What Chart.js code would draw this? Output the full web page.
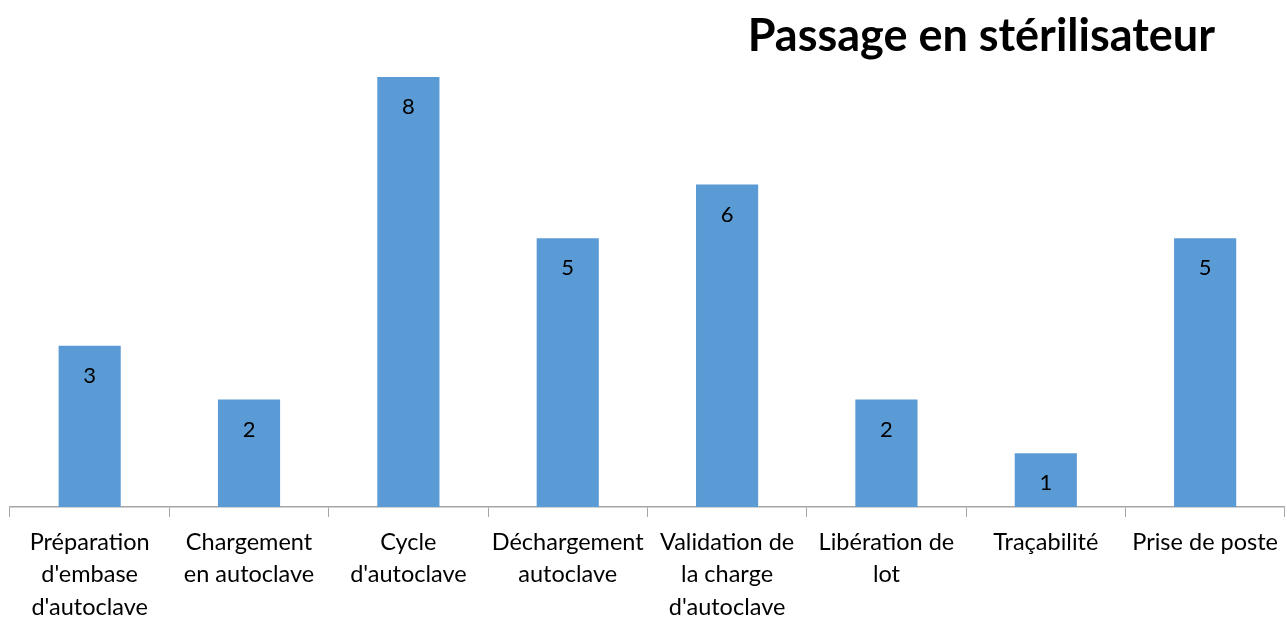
<!DOCTYPE html>
<html>
<head>
<meta charset="utf-8">
<script src="https://cdn.jsdelivr.net/npm/chart.js@4"></script>
<style>
    html, body { margin: 0; padding: 0; background: #fff; }
    #wrap { position: relative; width: 1287px; height: 618px; }
    #titre {
        position: absolute; top: 8px; right: 72px;
        font-family: Lato, "Open Sans", sans-serif; font-weight: bold;
        font-size: 45px; line-height: 52px; color: #000; margin: 0;
    }
</style>
</head>
<body>
<div id="wrap">
    <canvas id="sterilChart" width="1287" height="618"></canvas>
    <h1 id="titre">Passage en stérilisateur</h1>
</div>
<script>
// données
var categories = [
    ["Préparation", "d'embase", "d'autoclave"],
    ["Chargement", "en autoclave"],
    ["Cycle", "d'autoclave"],
    ["Déchargement", "autoclave"],
    ["Validation de", "la charge", "d'autoclave"],
    ["Libération de", "lot"],
    ["Traçabilité"],
    ["Prise de poste"]
];
var valeurs = [3, 2, 8, 5, 6, 2, 1, 5];

// étiquettes dans les barres
var etiquettesBarres = {
    id: 'etiquettesBarres',
    afterDatasetsDraw: function(chart) {
        var ctx = chart.ctx;
        var meta = chart.getDatasetMeta(0);
        ctx.save();
        ctx.fillStyle = '#000';
        ctx.font = '22px Lato, "Open Sans", sans-serif';
        ctx.textAlign = 'center';
        ctx.textBaseline = 'middle';
        meta.data.forEach(function(bar, i) {
            ctx.fillText(String(valeurs[i]), bar.x, bar.y + 30);
        });
        ctx.restore();
    }
};

var ctx = document.getElementById('sterilChart').getContext('2d');
var monGraphique = new Chart(ctx, {
    type: 'bar',
    data: {
        labels: categories,
        datasets: [{
            data: valeurs,
            backgroundColor: '#5B9BD5',
            borderWidth: 0,
            barPercentage: 0.39,
            categoryPercentage: 1
        }]
    },
    options: {
        responsive: false,
        animation: false,
        layout: { padding: { top: 77, left: 10, right: 0, bottom: 0 } },
        plugins: {
            legend: { display: false },
            tooltip: { enabled: false }
        },
        scales: {
            x: {
                grid: {
                    drawOnChartArea: false,
                    drawTicks: true,
                    tickLength: 10,
                    color: '#A6A6A6'
                },
                border: { display: true, color: '#A6A6A6', width: 1.5 },
                ticks: {
                    color: '#000',
                    font: { family: 'Lato, "Open Sans", sans-serif', size: 23.5, lineHeight: 1.38 },
                    padding: 9,
                    autoSkip: false,
                    minRotation: 0,
                    maxRotation: 0
                },
                afterFit: function(scale) { scale.height = 111; }
            },
            y: {
                display: false,
                min: 0,
                max: 8
            }
        }
    },
    plugins: [etiquettesBarres]
});
</script>
</body>
</html>
